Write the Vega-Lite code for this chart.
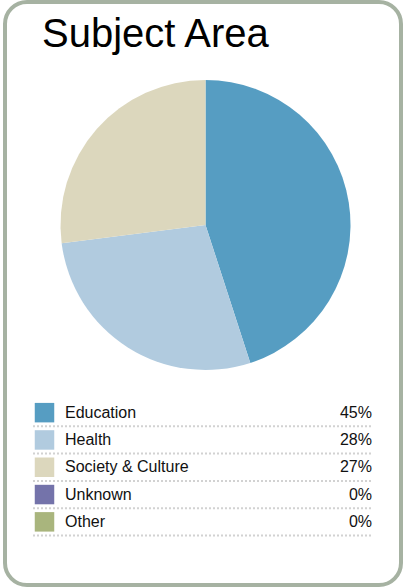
{
  "$schema": "https://vega.github.io/schema/vega-lite/v6.json",
  "width": 406,
  "height": 588,
  "autosize": {"type": "fit", "contains": "padding"},
  "padding": {"left": 5, "top": 2, "right": 5, "bottom": 3},
  "background": "white",
  "config": {
    "view": {"stroke": "#a6b2a2", "strokeWidth": 4, "cornerRadius": 22, "fill": "white"},
    "font": "Liberation Sans"
  },
  "data": {
    "values": [
      {"Category": "Education", "Share": 0.45, "Rank": 1},
      {"Category": "Health", "Share": 0.28, "Rank": 2},
      {"Category": "Society & Culture", "Share": 0.27, "Rank": 3},
      {"Category": "Unknown", "Share": 0, "Rank": 4},
      {"Category": "Other", "Share": 0, "Rank": 5}
    ]
  },
  "layer": [
    {
      "data": {"values": [{"Title": "Subject Area"}]},
      "mark": {"type": "text", "align": "left", "baseline": "alphabetic", "fontSize": 40, "font": "Liberation Sans"},
      "encoding": {
        "text": {"field": "Title"},
        "x": {"value": 37},
        "y": {"value": 45},
        "color": {"value": "#000000"}
      }
    },
    {
      "mark": {"type": "arc", "outerRadius": 145},
      "encoding": {
        "theta": {"field": "Share", "type": "quantitative", "stack": true},
        "order": {"field": "Rank", "type": "quantitative", "sort": "ascending"},
        "color": {
          "field": "Category",
          "type": "nominal",
          "legend": null,
          "scale": {
            "domain": ["Education", "Health", "Society & Culture", "Unknown", "Other"],
            "range": ["#569dc2", "#b1cbdf", "#dcd7bd", "#7473aa", "#a9b57d"]
          }
        },
        "x": {"value": 200.5},
        "y": {"value": 223}
      }
    },
    {
      "mark": {"type": "rule", "strokeDash": [2, 2], "strokeWidth": 2},
      "encoding": {
        "y": {
          "field": "Category",
          "type": "nominal",
          "sort": {"field": "Rank"},
          "bandPosition": 1,
          "axis": null,
          "scale": {"range": [397, 533.5], "paddingInner": 0, "paddingOuter": 0}
        },
        "x": {"value": 28},
        "x2": {"value": 367},
        "color": {"value": "#d2d2d2"}
      }
    },
    {
      "mark": {"type": "square", "size": 380, "opacity": 1, "filled": true},
      "encoding": {
        "y": {"field": "Category", "type": "nominal", "sort": {"field": "Rank"}},
        "x": {"value": 39.5},
        "color": {"field": "Category", "type": "nominal", "legend": null}
      }
    },
    {
      "mark": {"type": "text", "align": "left", "baseline": "middle", "fontSize": 16},
      "encoding": {
        "y": {"field": "Category", "type": "nominal", "sort": {"field": "Rank"}},
        "x": {"value": 60},
        "text": {"field": "Category"},
        "color": {"value": "#111111"}
      }
    },
    {
      "mark": {"type": "text", "align": "right", "baseline": "middle", "fontSize": 16},
      "encoding": {
        "y": {"field": "Category", "type": "nominal", "sort": {"field": "Rank"}},
        "x": {"value": 367},
        "text": {"field": "Share", "type": "quantitative", "format": ".0%"},
        "color": {"value": "#111111"}
      }
    }
  ]
}
